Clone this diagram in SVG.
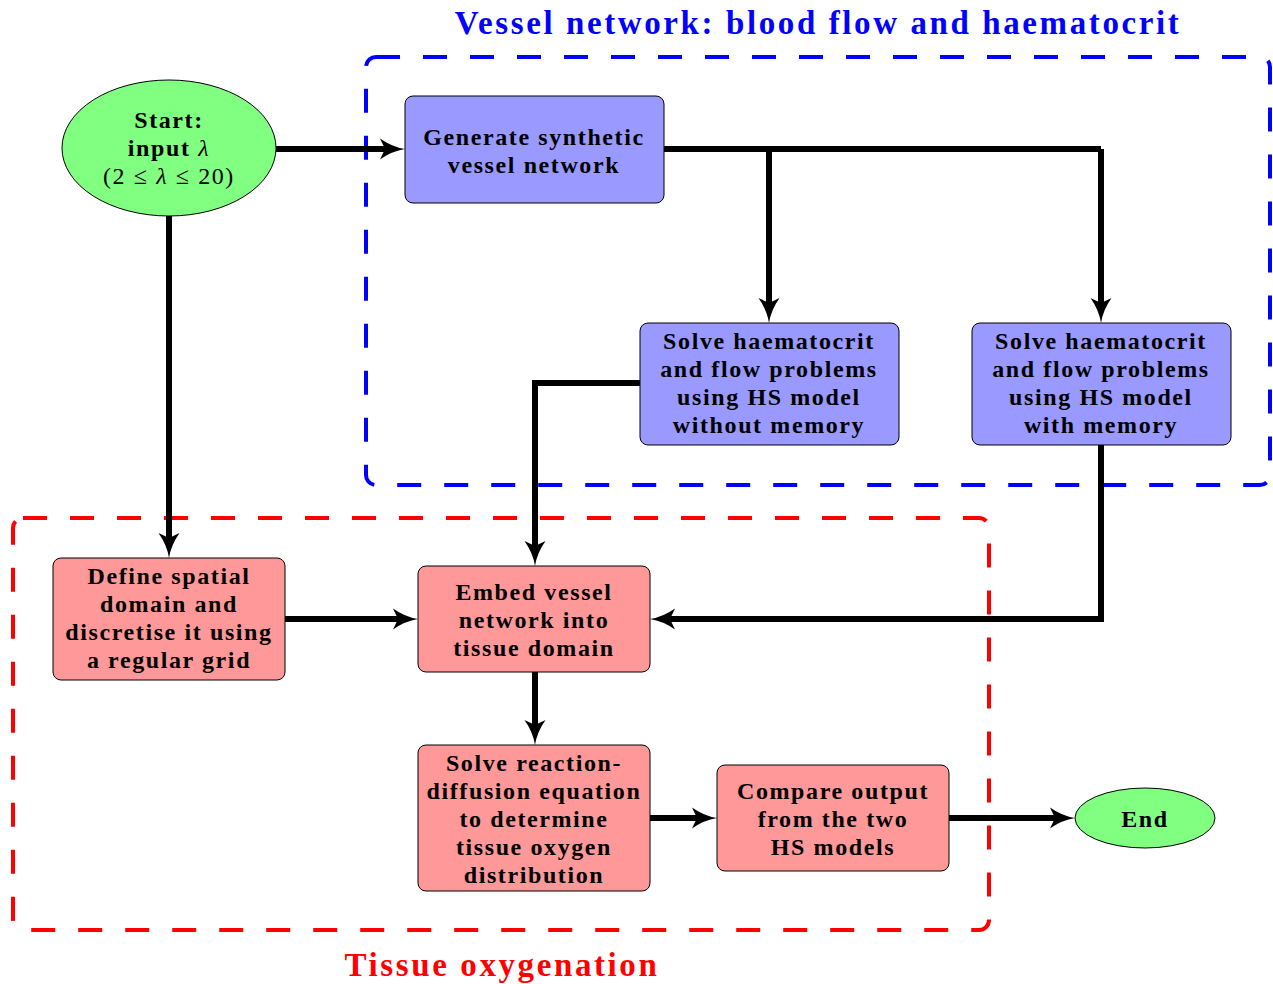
<svg xmlns="http://www.w3.org/2000/svg" width="1273" height="984" viewBox="0 0 1273 984">
<style>
.t{font-family:"Liberation Serif","DejaVu Serif",serif;font-weight:bold;font-size:24px;letter-spacing:1.6px;text-anchor:middle;fill:#000}
.n{font-weight:normal}
.ttl{font-size:33px;letter-spacing:2.6px}
.blue{fill:#9999FF;stroke:#000;stroke-width:1}
.red{fill:#FF9999;stroke:#000;stroke-width:1}
.green{fill:#80FF80;stroke:#000;stroke-width:1}
.c{fill:none;stroke:#000;stroke-width:6;marker-end:url(#ah)}
.c0{fill:none;stroke:#000;stroke-width:6}
</style>
<defs>
<marker id="ah" markerUnits="userSpaceOnUse" markerWidth="30" markerHeight="26" viewBox="0 -13 30 26" refX="10" refY="0" orient="auto">
<path d="M0,-10.5 Q12,-2 25,0 Q12,2 0,10.5 L5,0 Z" fill="#000"/>
</marker>
</defs>
<rect x="0" y="0" width="1273" height="984" fill="#fff"/>
<g id="group-vessel">
<rect x="366" y="57" width="904" height="428" rx="10" fill="none" stroke="#0000FF" stroke-width="4" stroke-dasharray="24 23"/>
<text x="818" y="34" class="t ttl" style="fill:#0000FF">Vessel network: blood flow and haematocrit</text>
</g>
<g id="group-tissue">
<rect x="13" y="518" width="976" height="412" rx="10" fill="none" stroke="#FF0000" stroke-width="4" stroke-dasharray="24 23"/>
<text x="502" y="976" class="t ttl" style="fill:#FF0000">Tissue oxygenation</text>
</g>
<g id="connectors">
<path class="c" d="M276,149 H390"/>
<path class="c0" d="M664,149 H1101"/>
<path class="c" d="M769,149 V308"/>
<path class="c" d="M1101,149 V308"/>
<path class="c" d="M169,216 V543"/>
<path class="c" d="M640,383 H535 V551"/>
<path class="c" d="M1101,445 V619 H665"/>
<path class="c" d="M285,619 H403"/>
<path class="c" d="M535,672 V730"/>
<path class="c" d="M650,818 H702"/>
<path class="c" d="M949,818 H1060"/>
</g>
<g id="start">
<ellipse cx="169" cy="148" rx="107" ry="68" class="green"/>
<text class="t" x="169" y="128">Start:</text>
<text class="t" x="169" y="156">input <tspan class="n" font-style="italic">λ</tspan></text>
<text class="t n" x="169" y="184">(2 ≤ <tspan font-style="italic">λ</tspan> ≤ 20)</text>
</g>
<g id="generate">
<rect x="405" y="96" width="259" height="107" rx="8" class="blue"/>
<text class="t" x="534" y="145">Generate synthetic</text>
<text class="t" x="534" y="173">vessel network</text>
</g>
<g id="solve-without">
<rect x="640" y="323" width="259" height="122" rx="8" class="blue"/>
<text class="t" x="769" y="349">Solve haematocrit</text>
<text class="t" x="769" y="377">and flow problems</text>
<text class="t" x="769" y="405">using HS model</text>
<text class="t" x="769" y="433">without memory</text>
</g>
<g id="solve-with">
<rect x="972" y="323" width="259" height="122" rx="8" class="blue"/>
<text class="t" x="1101" y="349">Solve haematocrit</text>
<text class="t" x="1101" y="377">and flow problems</text>
<text class="t" x="1101" y="405">using HS model</text>
<text class="t" x="1101" y="433">with memory</text>
</g>
<g id="define">
<rect x="53" y="558" width="232" height="122" rx="8" class="red"/>
<text class="t" x="169" y="584">Define spatial</text>
<text class="t" x="169" y="612">domain and</text>
<text class="t" x="169" y="640">discretise it using</text>
<text class="t" x="169" y="668">a regular grid</text>
</g>
<g id="embed">
<rect x="418" y="566" width="232" height="106" rx="8" class="red"/>
<text class="t" x="534" y="600">Embed vessel</text>
<text class="t" x="534" y="628">network into</text>
<text class="t" x="534" y="656">tissue domain</text>
</g>
<g id="solve-rd">
<rect x="418" y="745" width="232" height="146" rx="8" class="red"/>
<text class="t" x="534" y="771">Solve reaction-</text>
<text class="t" x="534" y="799">diffusion equation</text>
<text class="t" x="534" y="827">to determine</text>
<text class="t" x="534" y="855">tissue oxygen</text>
<text class="t" x="534" y="883">distribution</text>
</g>
<g id="compare">
<rect x="717" y="765" width="232" height="106" rx="8" class="red"/>
<text class="t" x="833" y="799">Compare output</text>
<text class="t" x="833" y="827">from the two</text>
<text class="t" x="833" y="855">HS models</text>
</g>
<g id="end">
<ellipse cx="1145" cy="818" rx="70" ry="30" class="green"/>
<text class="t" x="1145" y="827">End</text>
</g>
</svg>
